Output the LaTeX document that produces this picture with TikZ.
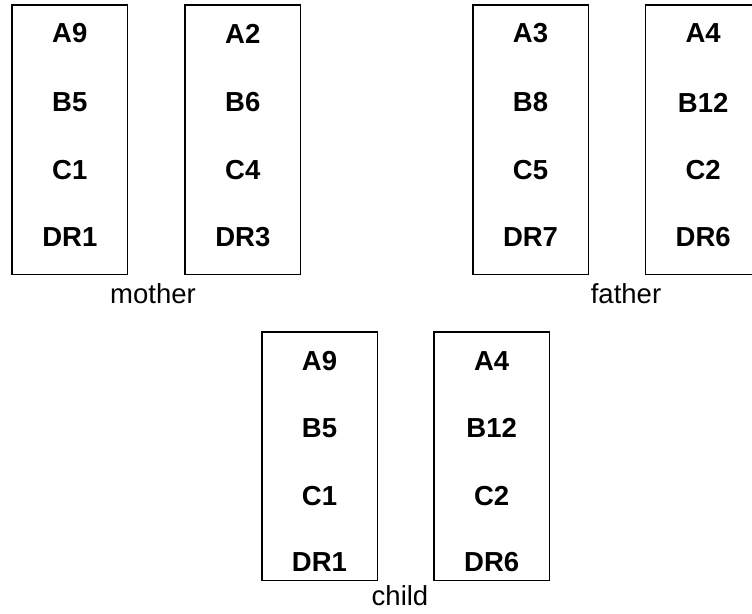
\documentclass[tikz,border=0pt]{standalone}
\usepackage{fontspec}
\setmainfont{Liberation Sans}
\begin{document}
\begin{tikzpicture}[x=1pt,y=-1pt,
  chrom/.style={draw, line width=1.5pt, minimum width=115.5pt, inner sep=0pt},
  tallchrom/.style={chrom, minimum height=269.5pt},
  shortchrom/.style={chrom, minimum height=248.5pt},
  allele/.style={font=\fontsize{27.5}{30}\selectfont\bfseries, inner sep=0pt},
  caption/.style={font=\fontsize{27.5}{30}\selectfont, inner sep=0pt, anchor=base}]
\useasboundingbox (0,0) rectangle (752,613);

% parent chromosomes
\node[tallchrom] (m1) at (69.8,139.5) {};
\node[tallchrom] (m2) at (242.8,139.5) {};
\node[tallchrom] (f1) at (530.5,139.5) {};
\node[tallchrom] (f2) at (703.2,139.5) {};
% child chromosomes
\node[shortchrom] (c1) at (319.5,456.3) {};
\node[shortchrom] (c2) at (491.7,456.3) {};

% alleles of the parents
\foreach \name/\a/\b/\c/\d in {m1/A9/B5/C1/DR1, m2/A2/B6/C4/DR3,
                               f1/A3/B8/C5/DR7, f2/A4/B12/C2/DR6} {
  \path (\name.north) +(0,29.5)  node[allele] (\name-a) {\a};
  \path (\name.north) +(0,98.5)  node[allele] (\name-b) {\b};
  \path (\name.north) +(0,166)   node[allele] (\name-c) {\c};
  \path (\name.north) +(0,233.5) node[allele] (\name-d) {\d};
}
% alleles of the child
\foreach \name/\a/\b/\c/\d in {c1/A9/B5/C1/DR1, c2/A4/B12/C2/DR6} {
  \path (\name.north) +(0,29.7)  node[allele] (\name-a) {\a};
  \path (\name.north) +(0,96.5)  node[allele] (\name-b) {\b};
  \path (\name.north) +(0,164.5) node[allele] (\name-c) {\c};
  \path (\name.north) +(0,230.5) node[allele] (\name-d) {\d};
}

% captions
\node[caption] (mother) at (153,303) {mother};
\node[caption] (father) at (626,303) {father};
\node[caption] (child) at (400,605) {child};
\end{tikzpicture}
\end{document}
